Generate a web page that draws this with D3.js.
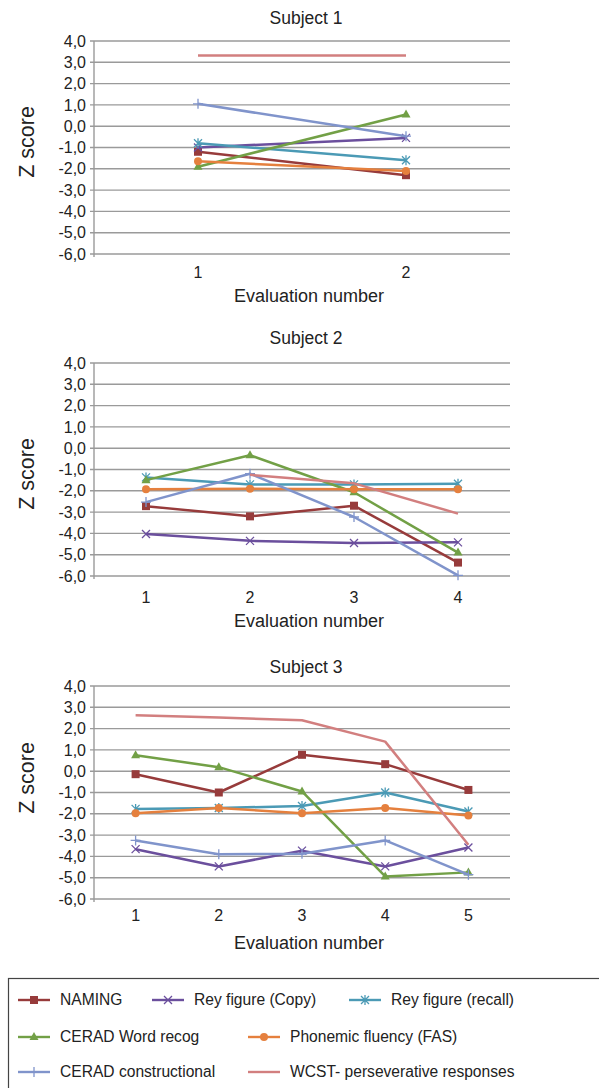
<!DOCTYPE html>
<html>
<head>
<meta charset="utf-8">
<script src="https://cdn.jsdelivr.net/npm/d3@7"></script>
<style>
html,body{margin:0;padding:0;background:#fff;}
svg{display:block;font-family:"Liberation Sans",Arial,Helvetica,sans-serif;}
</style>
</head>
<body>
<svg id="chart" width="599" height="1088"></svg>
<script>
// ---------- data ----------
const seriesNames = ["NAMING","Rey figure (Copy)","Rey figure (recall)","CERAD Word recog","Phonemic fluency (FAS)","CERAD constructional","WCST- perseverative responses"];
const subjectTitles = ["Subject 1","Subject 2","Subject 3"];
const evalS1 = ["1","2"];
const evalS2 = ["1","2","3","4"];
const evalS3 = ["1","2","3","4","5"];
const yTicks = [4,3,2,1,0,-1,-2,-3,-4,-5,-6];

// Subject 1 values (per series, per evaluation)
const s1Naming = [-1.2,-2.3];
const s1ReyCopy = [-1.0,-0.55];
const s1ReyRecall = [-0.8,-1.6];
const s1CeradWord = [-1.9,0.55];
const s1Fas = [-1.65,-2.1];
const s1CeradConstr = [1.05,-0.47];
const s1Wcst = [3.32,3.32];

// Subject 2
const s2Naming = [-2.72,-3.2,-2.7,-5.37];
const s2ReyCopy = [-4.03,-4.35,-4.45,-4.42];
const s2ReyRecall = [-1.37,-1.7,-1.7,-1.67];
const s2CeradWord = [-1.5,-0.33,-2.07,-4.9];
const s2Fas = [-1.93,-1.9,-1.93,-1.93];
const s2CeradConstr = [-2.53,-1.2,-3.23,-5.97];
const s2Wcst = [null,-1.25,-1.65,-3.07];

// Subject 3
const s3Naming = [-0.14,-1.0,0.77,0.33,-0.88];
const s3ReyCopy = [-3.66,-4.47,-3.73,-4.47,-3.58];
const s3ReyRecall = [-1.77,-1.73,-1.63,-1.0,-1.89];
const s3CeradWord = [0.75,0.19,-0.95,-4.94,-4.75];
const s3Fas = [-1.97,-1.73,-1.97,-1.73,-2.08];
const s3CeradConstr = [-3.25,-3.9,-3.88,-3.25,-4.86];
const s3Wcst = [2.63,2.52,2.39,1.39,-3.45];

// ---------- styles ----------
const colors = ["#973b3b","#6b4f9d","#4b9ab5","#72a046","#e5803e","#8094cb","#d27f7f"];
const markers = ["square","x","asterisk","triangle","circle","plus","none"];

const subjects = [
  {title: subjectTitles[0], cats: evalS1, values: [s1Naming,s1ReyCopy,s1ReyRecall,s1CeradWord,s1Fas,s1CeradConstr,s1Wcst]},
  {title: subjectTitles[1], cats: evalS2, values: [s2Naming,s2ReyCopy,s2ReyRecall,s2CeradWord,s2Fas,s2CeradConstr,s2Wcst]},
  {title: subjectTitles[2], cats: evalS3, values: [s3Naming,s3ReyCopy,s3ReyRecall,s3CeradWord,s3Fas,s3CeradConstr,s3Wcst]}
];
// layout per panel
const layouts = [
  {top:41, bottom:254, titleY:18, tickY:272, xTitleY:296, zY:142},
  {top:363, bottom:576, titleY:338, tickY:597, xTitleY:621, zY:474},
  {top:686, bottom:899, titleY:667, tickY:915, xTitleY:943, zY:778}
];
const plotLeft = 94, plotRight = 510;

const svg = d3.select("#chart");
const fmt = d => (d < 0 ? "-" : "") + Math.abs(d).toFixed(1).replace(".", ",");

function drawMarker(g, type, x, y, color) {
  const s = 4;
  if (type === "square") {
    g.append("rect").attr("x", x - s).attr("y", y - s).attr("width", 2*s).attr("height", 2*s).attr("fill", color);
  } else if (type === "triangle") {
    g.append("path").attr("d", `M${x},${y-s-1}L${x+s+0.5},${y+s-1}L${x-s-0.5},${y+s-1}Z`).attr("fill", color);
  } else if (type === "circle") {
    g.append("circle").attr("cx", x).attr("cy", y).attr("r", s).attr("fill", color);
  } else if (type === "x") {
    g.append("path").attr("d", `M${x-s},${y-s}L${x+s},${y+s}M${x-s},${y+s}L${x+s},${y-s}`).attr("stroke", color).attr("stroke-width", 1.3);
  } else if (type === "asterisk") {
    g.append("path").attr("d", `M${x-s},${y-s}L${x+s},${y+s}M${x-s},${y+s}L${x+s},${y-s}M${x},${y-s-1}L${x},${y+s+1}`).attr("stroke", color).attr("stroke-width", 1.3);
  } else if (type === "plus") {
    g.append("path").attr("d", `M${x-s-1},${y}L${x+s+1},${y}M${x},${y-s-1}L${x},${y+s+1}`).attr("stroke", color).attr("stroke-width", 1.3);
  }
}

subjects.forEach((subj, i) => {
  const L = layouts[i];
  const g = svg.append("g");
  const x = d3.scalePoint().domain(subj.cats).range([plotLeft, plotRight]).padding(0.5);
  const y = d3.scaleLinear().domain([-6, 4]).range([L.bottom, L.top]);

  // gridlines
  g.append("g").selectAll("line").data(yTicks).join("line")
    .attr("x1", plotLeft - 4).attr("x2", plotRight)
    .attr("y1", d => y(d)).attr("y2", d => y(d))
    .attr("stroke", "#9a9a9a").attr("stroke-width", 1.4);
  // vertical axis line
  g.append("line").attr("x1", plotLeft).attr("x2", plotLeft).attr("y1", L.top).attr("y2", L.bottom + 3)
    .attr("stroke", "#9a9a9a").attr("stroke-width", 1.4);

  // y tick labels
  g.append("g").selectAll("text").data(yTicks).join("text")
    .attr("x", 86).attr("y", d => y(d)).attr("dy", "0.35em")
    .attr("text-anchor", "end").attr("font-size", 16).attr("fill", "#222")
    .text(fmt);

  // x tick labels
  g.append("g").selectAll("text").data(subj.cats).join("text")
    .attr("x", d => x(d)).attr("y", L.tickY).attr("dy", "0.35em")
    .attr("text-anchor", "middle").attr("font-size", 16).attr("fill", "#222")
    .text(d => d);

  // titles
  g.append("text").attr("x", 306).attr("y", L.titleY).attr("dy", "0.35em")
    .attr("text-anchor", "middle").attr("font-size", 17.5).attr("fill", "#222").text(subj.title);
  g.append("text").attr("x", 309).attr("y", L.xTitleY).attr("dy", "0.35em")
    .attr("text-anchor", "middle").attr("font-size", 18).attr("fill", "#222").text("Evaluation number");
  g.append("text").attr("transform", `translate(26,${L.zY}) rotate(-90)`).attr("dy", "0.35em")
    .attr("text-anchor", "middle").attr("font-size", 21.5).attr("fill", "#222").text("Z score");

  // series
  subj.values.forEach((vals, si) => {
    const pts = vals.map((v, k) => ({c: subj.cats[k], v: v}));
    const line = d3.line().defined(d => d.v !== null).x(d => x(d.c)).y(d => y(d.v));
    g.append("path").datum(pts).attr("d", line).attr("fill", "none")
      .attr("stroke", colors[si]).attr("stroke-width", 2.5).attr("stroke-linejoin", "round");
    pts.filter(d => d.v !== null).forEach(d => drawMarker(g, markers[si], x(d.c), y(d.v), colors[si]));
  });
});

// ---------- legend ----------
const lg = svg.append("g");
lg.append("rect").attr("x", 8.5).attr("y", 978.5).attr("width", 700).attr("height", 200)
  .attr("fill", "none").attr("stroke", "#444").attr("stroke-width", 1.2);
const legendPos = [
  {x:18, y:1000}, {x:152, y:1000}, {x:349, y:1000},
  {x:18, y:1037}, {x:248, y:1037},
  {x:18, y:1072}, {x:248, y:1072}
];
seriesNames.forEach((name, si) => {
  const p = legendPos[si];
  lg.append("line").attr("x1", p.x).attr("x2", p.x + 32).attr("y1", p.y).attr("y2", p.y)
    .attr("stroke", colors[si]).attr("stroke-width", 2.4);
  drawMarker(lg, markers[si], p.x + 16, p.y, colors[si]);
  lg.append("text").attr("x", p.x + 42).attr("y", p.y).attr("dy", "0.35em")
    .attr("font-size", 15.6).attr("fill", "#222").text(name);
});
</script>
</body>
</html>
